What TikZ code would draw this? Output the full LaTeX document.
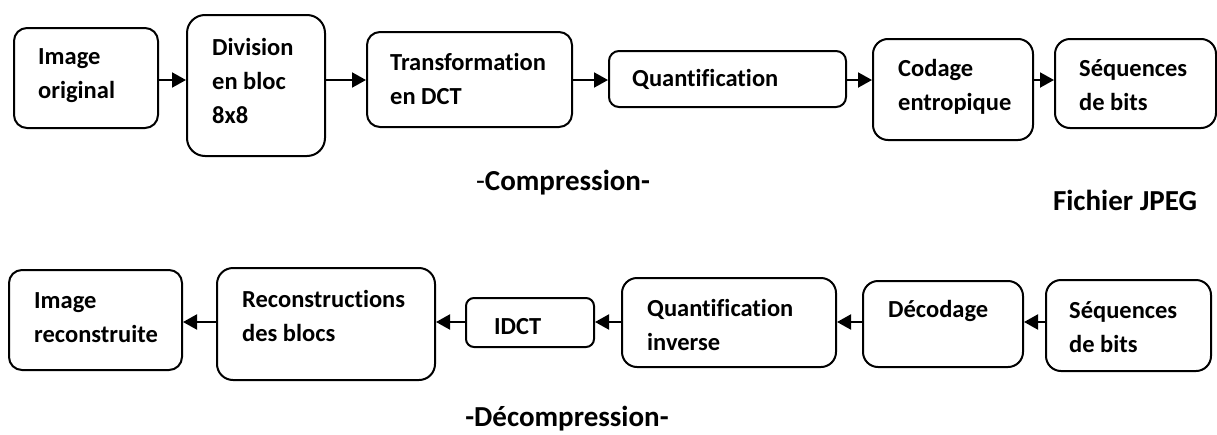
\documentclass[tikz,border=0pt]{standalone}
\usepackage{fontspec}
\setmainfont[Ligatures=NoCommon]{Carlito}
\usetikzlibrary{arrows.meta}
\begin{document}
\begin{tikzpicture}[x=1pt,y=-1pt,
  box/.style={draw, line width=2pt, rounded corners=#1, inner sep=0pt},
  box/.default=13pt,
  txt/.style={anchor=west, align=left, inner sep=0pt,
    font=\fontsize{24.5}{34}\selectfont\bfseries},
  title/.style={inner sep=0pt, font=\fontsize{29}{32}\selectfont\bfseries},
  arr/.style={line width=2pt, -{Triangle[length=14pt,width=15pt]}}]
\useasboundingbox (0,0) rectangle (1217,434);

% compression chain
\node[box, minimum width=144pt, minimum height=100pt] (a1) at (86,78) {};
\node[box=18pt, minimum width=138pt, minimum height=141pt] (a2) at (256,85.5) {};
\node[box, minimum width=205pt, minimum height=95pt] (a3) at (469.5,79.5) {};
\node[box=10pt, minimum width=237pt, minimum height=56pt] (a4) at (727.5,79) {};
\node[box=15pt, minimum width=160pt, minimum height=101pt] (a5) at (953,89.5) {};
\node[box=15pt, minimum width=161pt, minimum height=89pt] (a6) at (1135.5,83.5) {};

\node[txt] (a1t) at (38,75.5) {Image\\original};
\node[txt] (a2t) at (212,80.5) {Division\\en bloc\\8x8};
\node[txt] (a3t) at (390,79) {Transformation\\en DCT};
\node[txt] (a4t) at (632,79) {Quantification};
\node[txt] (a5t) at (898,86.5) {Codage\\entropique};
\node[txt] (a6t) at (1079,85) {Séquences\\de bits};

\coordinate (yt) at (0,80);
\draw[arr] (a1.east |- yt) -- (a2.west |- yt);
\draw[arr] (a2.east |- yt) -- (a3.west |- yt);
\draw[arr] (a3.east |- yt) -- (a4.west |- yt);
\draw[arr] (a4.east |- yt) -- (a5.west |- yt);
\draw[arr] (a5.east |- yt) -- (a6.west |- yt);

\node[title] (comp) at (563,183) {{\mdseries -}Compression-};
\node[title] (jpeg) at (1125,200) {Fichier JPEG};

% decompression chain
\node[box, minimum width=173pt, minimum height=100pt] (b1) at (95.5,320) {};
\node[box=16pt, minimum width=218pt, minimum height=112pt] (b2) at (326,324) {};
\node[box=8pt, minimum width=128pt, minimum height=49pt] (b3) at (530,322.5) {};
\node[box=15pt, minimum width=214pt, minimum height=89pt] (b4) at (729,322.5) {};
\node[box=15pt, minimum width=160pt, minimum height=86pt] (b5) at (943,324) {};
\node[box=15pt, minimum width=165pt, minimum height=91pt] (b6) at (1128.5,325.5) {};

\node[txt] (b1t) at (34,317.5) {Image\\reconstruite};
\node[txt] (b2t) at (242,315.5) {Reconstructions\\des blocs};
\node[txt] (b3t) at (494,327) {IDCT};
\node[txt] (b4t) at (647,325) {Quantification\\inverse};
\node[txt] (b5t) at (888,311) {Décodage};
\node[txt] (b6t) at (1069,327) {Séquences\\de bits};

\coordinate (yb) at (0,322);
\draw[arr] (b2.west |- yb) -- (b1.east |- yb);
\draw[arr] (b3.west |- yb) -- (b2.east |- yb);
\draw[arr] (b4.west |- yb) -- (b3.east |- yb);
\draw[arr] (b5.west |- yb) -- (b4.east |- yb);
\draw[arr] (b6.west |- yb) -- (b5.east |- yb);

\node[title, anchor=base] (decomp) at (567,426) {-Décompression-};
\end{tikzpicture}
\end{document}
